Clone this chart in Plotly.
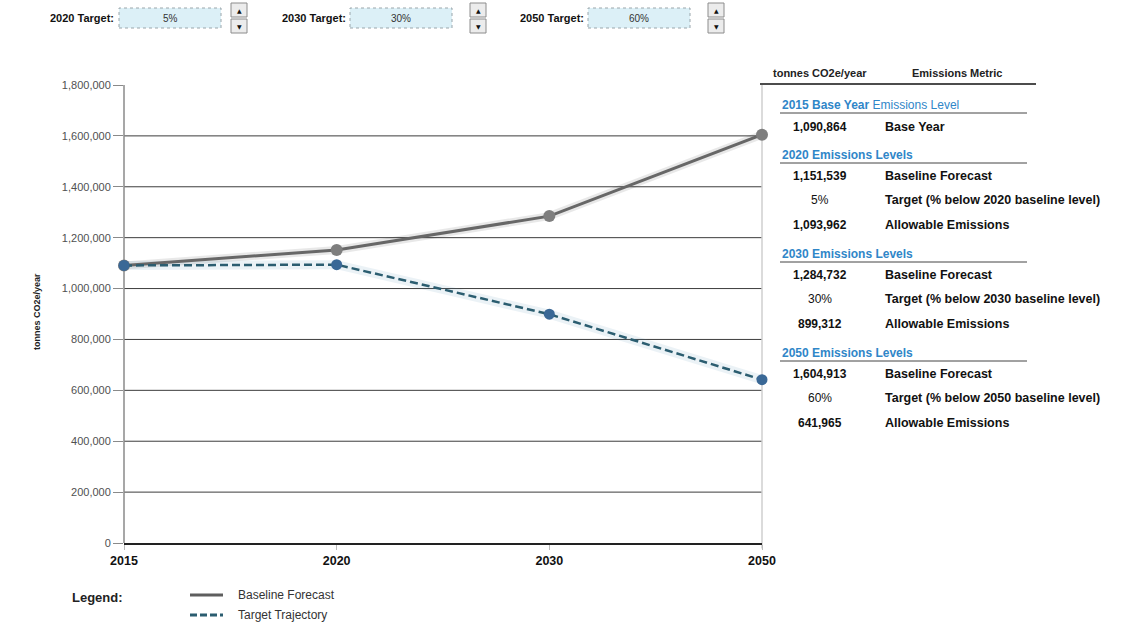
import plotly.graph_objects as go

# ---- data ----
years = ["2015", "2020", "2030", "2050"]
baseline_forecast = [1090864, 1151539, 1284732, 1604913]
target_trajectory = [1090864, 1093962, 899312, 641965]
target_pct = [5, 30, 60]                      # % below baseline for 2020, 2030, 2050
target_years = ["2020", "2030", "2050"]
y_ticks = [0, 200000, 400000, 600000, 800000, 1000000, 1200000, 1400000, 1600000, 1800000]

W, H = 1127, 622
ML, MR, MT, MB = 124, 365, 85, 79
PW, PH = W - ML - MR, H - MT - MB

FONT = "Liberation Sans"


def px(x):
    return (x - ML) / PW


def py(y):
    return (H - MB - y) / PH


fig = go.Figure()

# soft shadow under the lines
fig.add_trace(go.Scatter(x=years, y=baseline_forecast, mode="lines",
                         line=dict(color="rgba(0,0,0,0.09)", width=8),
                         hoverinfo="skip", showlegend=False, cliponaxis=False))
fig.add_trace(go.Scatter(x=years, y=target_trajectory, mode="lines",
                         line=dict(color="rgba(60,130,170,0.10)", width=9),
                         hoverinfo="skip", showlegend=False, cliponaxis=False))

fig.add_trace(go.Scatter(
    x=years, y=baseline_forecast, mode="lines+markers", name="Baseline Forecast",
    line=dict(color="#676767", width=3),
    marker=dict(color="#7e7e7e", size=12),
    cliponaxis=False, showlegend=False))
fig.add_trace(go.Scatter(
    x=years, y=target_trajectory, mode="lines+markers", name="Target Trajectory",
    line=dict(color="#2b5d70", width=2.5, dash="8px,4px"),
    marker=dict(color="#3a6896", size=11),
    cliponaxis=False, showlegend=False))

shapes = []
ann = []

# horizontal gridlines (none on the top edge)
for v in y_ticks[1:-1]:
    shapes.append(dict(type="line", xref="paper", yref="y", x0=0, x1=1, y0=v, y1=v,
                       line=dict(color="#3c3c3c", width=1), layer="below"))
# vertical gridlines
for yr in years[1:-1]:
    shapes.append(dict(type="line", xref="x", yref="paper", x0=yr, x1=yr, y0=0, y1=1,
                       line=dict(color="#9a9a9a", width=1, dash="dot"), layer="below"))
shapes.append(dict(type="line", xref="paper", yref="paper", x0=1, x1=1, y0=-0.012, y1=1,
                   line=dict(color="#cfcfcf", width=1.5), layer="below"))
shapes.append(dict(type="line", xref="paper", yref="paper", x0=0, x1=0, y0=0, y1=1,
                   line=dict(color="#8a8a8a", width=1.5), layer="below"))

# ---- target input controls ----
controls = [
    dict(label="2020 Target:", lx=116, bx0=119, bx1=221, sx=231),
    dict(label="2030 Target:", lx=348, bx0=350, bx1=452, sx=470),
    dict(label="2050 Target:", lx=586, bx0=588, bx1=690, sx=708),
]
for c, pct in zip(controls, target_pct):
    ann.append(dict(x=px(c["lx"]), y=py(18), xref="paper", yref="paper", text="<b>" + c["label"] + "</b>",
                    showarrow=False, xanchor="right", yanchor="middle",
                    font=dict(family=FONT, size=11, color="#111")))
    shapes.append(dict(type="rect", xref="paper", yref="paper",
                       x0=px(c["bx0"]), x1=px(c["bx1"]), y0=py(28), y1=py(8),
                       fillcolor="#dcf0f7", line=dict(color="#9aa6ab", width=1, dash="dot")))
    ann.append(dict(x=px((c["bx0"] + c["bx1"]) / 2), y=py(18), xref="paper", yref="paper",
                    text=f"{pct}%", showarrow=False, xanchor="center", yanchor="middle",
                    font=dict(family=FONT, size=10, color="#333")))
    for y0, y1, glyph in [(3, 17, "▲"), (19, 33, "▼")]:
        shapes.append(dict(type="rect", xref="paper", yref="paper",
                           x0=px(c["sx"]), x1=px(c["sx"] + 16), y0=py(y1), y1=py(y0),
                           fillcolor="#ececec", line=dict(color="#8c8c8c", width=1)))
        ann.append(dict(x=px(c["sx"] + 8), y=py((y0 + y1) / 2), xref="paper", yref="paper",
                        text=glyph, showarrow=False, xanchor="center", yanchor="middle",
                        font=dict(family="DejaVu Sans", size=6, color="#111")))

# ---- y axis title ----
ann.append(dict(x=px(37), y=py(312), xref="paper", yref="paper", text="<b>tonnes CO2e/year</b>",
                textangle=-90, showarrow=False, xanchor="center", yanchor="middle",
                font=dict(family=FONT, size=9, color="#222")))

# ---- side table ----
VAL_X, MET_X, HDR_X = 820, 883, 780
ann.append(dict(x=px(820), y=py(73), xref="paper", yref="paper", text="<b>tonnes CO2e/year</b>",
                showarrow=False, xanchor="center", yanchor="middle",
                font=dict(family=FONT, size=11, color="#222")))
ann.append(dict(x=px(957), y=py(73), xref="paper", yref="paper", text="<b>Emissions Metric</b>",
                showarrow=False, xanchor="center", yanchor="middle",
                font=dict(family=FONT, size=11, color="#222")))
shapes.append(dict(type="line", xref="paper", yref="paper", x0=px(760), x1=px(1036),
                   y0=py(84), y1=py(84), line=dict(color="#111", width=1.5)))


def header(text, yc):
    ann.append(dict(x=px(HDR_X), y=py(yc), xref="paper", yref="paper", text=text,
                    showarrow=False, xanchor="left", yanchor="middle",
                    font=dict(family=FONT, size=12, color="#2f86c8")))
    shapes.append(dict(type="line", xref="paper", yref="paper", x0=px(HDR_X), x1=px(1027),
                       y0=py(yc + 8), y1=py(yc + 8), line=dict(color="#444", width=1)))


def row(value, metric, yc, bold=True):
    v = f"<b>{value}</b>" if bold else value
    ann.append(dict(x=px(VAL_X), y=py(yc), xref="paper", yref="paper", text=v,
                    showarrow=False, xanchor="center", yanchor="middle",
                    font=dict(family=FONT, size=12, color="#111")))
    ann.append(dict(x=px(MET_X), y=py(yc), xref="paper", yref="paper", text=f"<b>{metric}</b>",
                    showarrow=False, xanchor="left", yanchor="middle",
                    font=dict(family=FONT, size=12.5, color="#111")))


header("<b>2015 Base Year</b> Emissions Level", 105)
row(f"{baseline_forecast[0]:,}", "Base Year", 127)

section_y = [155, 254, 353]
for i, (yr, pct, yc) in enumerate(zip(target_years, target_pct, section_y)):
    header(f"<b>{yr} Emissions Levels</b>", yc)
    row(f"{baseline_forecast[i + 1]:,}", "Baseline Forecast", yc + 21)
    row(f"{pct}%", f"Target (% below {yr} baseline level)", yc + 45, bold=False)
    row(f"{target_trajectory[i + 1]:,}", "Allowable Emissions", yc + 70)

# ---- legend ----
ann.append(dict(x=px(70), y=py(597), xref="paper", yref="paper", text="<b>Legend:</b>",
                showarrow=False, xanchor="left", yanchor="middle",
                font=dict(family=FONT, size=13, color="#222")))
shapes.append(dict(type="line", xref="paper", yref="paper", x0=px(190), x1=px(223),
                   y0=py(595), y1=py(595), line=dict(color="#5e5e5e", width=3)))
shapes.append(dict(type="line", xref="paper", yref="paper", x0=px(190), x1=px(223),
                   y0=py(615), y1=py(615), line=dict(color="#2b5d70", width=3, dash="7px,3px")))
ann.append(dict(x=px(236), y=py(595), xref="paper", yref="paper", text="Baseline Forecast",
                showarrow=False, xanchor="left", yanchor="middle",
                font=dict(family=FONT, size=12, color="#333")))
ann.append(dict(x=px(236), y=py(615), xref="paper", yref="paper", text="Target Trajectory",
                showarrow=False, xanchor="left", yanchor="middle",
                font=dict(family=FONT, size=12, color="#333")))

fig.update_layout(
    width=W, height=H,
    margin=dict(l=ML, r=MR, t=MT, b=MB, pad=0),
    paper_bgcolor="white", plot_bgcolor="white",
    showlegend=False,
    shapes=shapes, annotations=ann,
    xaxis=dict(type="category", range=[0, 3], showgrid=False, zeroline=False,
               showline=True, linecolor="#222", linewidth=1.5,
               ticks="outside", ticklen=5, tickcolor="#bbb",
               tickfont=dict(family=FONT, size=12.5, color="#111"),
               tickvals=years, ticktext=[f"<b>{y}</b>" for y in years]),
    yaxis=dict(range=[0, 1800000], tickvals=y_ticks, tickformat=",",
               showgrid=False, zeroline=False, showline=False,
               ticks="outside", ticklen=10, tickcolor="#8a8a8a",
               tickfont=dict(family=FONT, size=11, color="#505050")),
)

fig.write_html("out.html")
